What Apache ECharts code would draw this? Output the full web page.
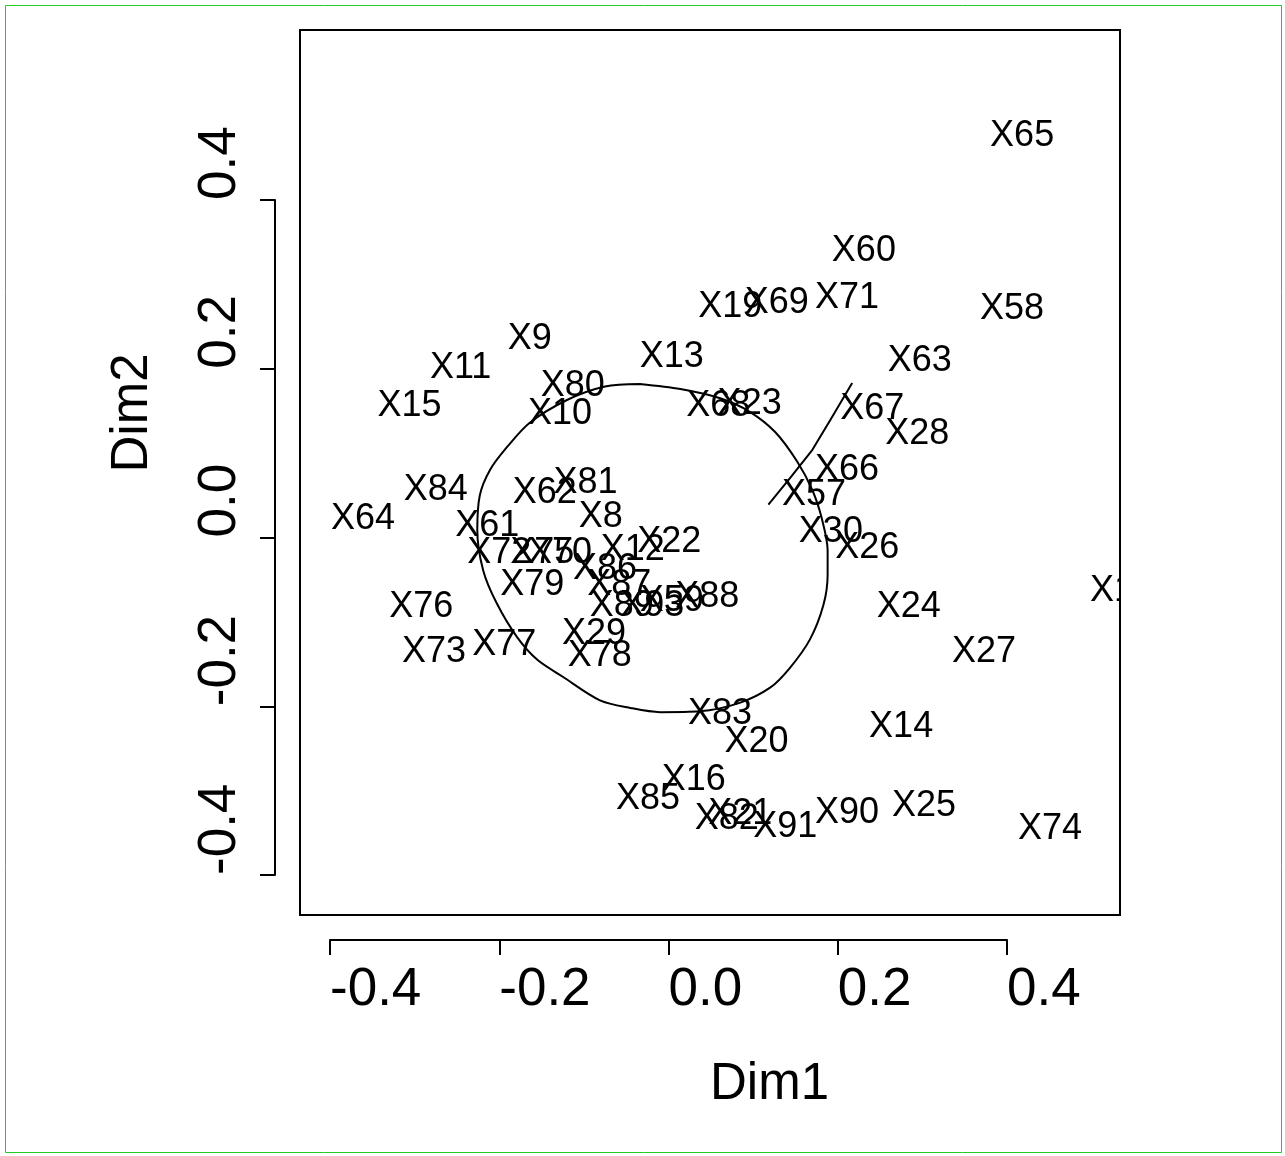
<!DOCTYPE html>
<html><head><meta charset="utf-8">
<script src="https://cdn.jsdelivr.net/npm/echarts@6/dist/echarts.min.js"></script>
<style>html,body{margin:0;padding:0;background:#fff}#c{width:1285px;height:1156px}</style>
</head><body><div id="c"></div>
<script>
const labels = ["X65","X60","X71","X69","X19","X58","X9","X13","X63","X11","X80","X15","X68","X23","X67","X10","X28","X66","X81","X84","X62","X57","X64","X8","X61","X30","X22","X26","X12","X72","X75","X70","X86","X79","X87","X88","X76","X24","X89","X93","X59","X1","X29","X77","X27","X73","X78","X83","X14","X20","X16","X85","X25","X90","X21","X82","X91","X74"];
const dim1 = [0.380,0.193,0.173,0.090,0.035,0.368,-0.190,-0.034,0.259,-0.282,-0.151,-0.344,0.021,0.058,0.203,-0.166,0.256,0.173,-0.136,-0.313,-0.184,0.134,-0.399,-0.106,-0.252,0.154,-0.037,0.197,-0.080,-0.238,-0.187,-0.166,-0.113,-0.199,-0.096,0.008,-0.330,0.246,-0.093,-0.057,-0.034,0.498,-0.126,-0.232,0.335,-0.315,-0.119,0.023,0.237,0.066,-0.008,-0.062,0.264,0.173,0.047,0.031,0.100,0.413];
const dim2 = [0.476,0.339,0.284,0.278,0.273,0.271,0.235,0.214,0.209,0.201,0.179,0.156,0.156,0.158,0.152,0.146,0.122,0.080,0.064,0.056,0.053,0.050,0.022,0.024,0.014,0.007,-0.006,-0.012,-0.015,-0.018,-0.018,-0.018,-0.038,-0.056,-0.056,-0.071,-0.083,-0.083,-0.081,-0.081,-0.075,-0.064,-0.115,-0.127,-0.136,-0.136,-0.141,-0.209,-0.225,-0.242,-0.288,-0.310,-0.318,-0.327,-0.328,-0.334,-0.343,-0.345];
const circleX = [-0.034,0.014,0.061,0.096,0.126,0.152,0.170,0.181,0.188,0.188,0.183,0.167,0.143,0.120,0.084,0.037,-0.010,-0.045,-0.081,-0.125,-0.155,-0.179,-0.203,-0.219,-0.226,-0.223,-0.211,-0.191,-0.164,-0.120,-0.075,-0.034];
const circleY = [0.182,0.176,0.165,0.149,0.125,0.090,0.056,0.023,-0.015,-0.044,-0.080,-0.121,-0.155,-0.178,-0.196,-0.206,-0.207,-0.202,-0.193,-0.165,-0.145,-0.118,-0.078,-0.039,0.009,0.050,0.080,0.107,0.136,0.163,0.179,0.182];
const segX = [0.118,0.144,0.170,0.191,0.217];
const segY = [0.039,0.071,0.104,0.139,0.183];

const FONT = '"Liberation Sans", Arial, sans-serif';
const chart = echarts.init(document.getElementById('c'), null, {renderer:'canvas'});
const pts = labels.map((l,i)=>[dim1[i],dim2[i],l]);
chart.setOption({
  animation:false,
  backgroundColor:'#fff',
  graphic:[{type:'rect',shape:{x:5.5,y:5.5,width:1276,height:1147},style:{fill:null,stroke:'#22cc22',lineWidth:1},silent:true}],
  grid:[
    {left:300,top:30,width:820,height:885,show:true,borderColor:'#000',borderWidth:2,backgroundColor:'transparent'},
    {left:330,top:200,width:677,height:675,show:false}
  ],
  xAxis:[
    {gridIndex:0,type:'value',min:-0.4355,max:0.5335,show:true,axisLine:{show:false},axisTick:{show:false},axisLabel:{show:false},splitLine:{show:false},
     name:'Dim1',nameLocation:'middle',nameGap:170,nameTextStyle:{fontFamily:FONT,fontSize:51,color:'#000',align:'left',verticalAlign:'middle'}},
    {gridIndex:1,type:'value',min:-0.4,max:0.4,interval:0.2,position:'bottom',offset:65,
     axisLine:{show:true,onZero:false,lineStyle:{color:'#000',width:2}},axisTick:{show:true,length:15,lineStyle:{color:'#000',width:2}},
     axisLabel:{fontFamily:FONT,fontSize:53,color:'#000',margin:24,align:'left',formatter:v=>v.toFixed(1)},splitLine:{show:false}}
  ],
  yAxis:[
    {gridIndex:0,type:'value',min:-0.4474,max:0.6015,show:true,axisLine:{show:false},axisTick:{show:false},axisLabel:{show:false},splitLine:{show:false},
     name:'Dim2',nameLocation:'middle',nameGap:167,nameRotate:90,nameTextStyle:{fontFamily:FONT,fontSize:51,color:'#000',align:'left',verticalAlign:'middle'}},
    {gridIndex:1,type:'value',min:-0.4,max:0.4,interval:0.2,position:'left',offset:55,
     axisLine:{show:true,onZero:false,lineStyle:{color:'#000',width:2}},axisTick:{show:true,length:15,lineStyle:{color:'#000',width:2}},
     axisLabel:{fontFamily:FONT,fontSize:53,color:'#000',margin:28,rotate:90,align:'left',verticalAlign:'bottom',formatter:v=>v.toFixed(1)},splitLine:{show:false}}
  ],
  series:[
    {type:'line',xAxisIndex:0,yAxisIndex:0,data:circleX.map((x,i)=>[x,circleY[i]]),showSymbol:false,smooth:0.3,lineStyle:{color:'#000',width:2},silent:true},
    {type:'line',xAxisIndex:0,yAxisIndex:0,data:segX.map((x,i)=>[x,segY[i]]),showSymbol:false,lineStyle:{color:'#000',width:2},silent:true},
    {type:'custom',xAxisIndex:0,yAxisIndex:0,clip:true,data:pts,
     renderItem:(params,api)=>{
       const p = api.coord([api.value(0),api.value(1)]);
       return {type:'text',x:p[0],y:p[1],style:{text:pts[params.dataIndex][2],fontFamily:FONT,fontSize:36,fill:'#000',align:'left',verticalAlign:'middle'}};
     }}
  ]
});
</script></body></html>
